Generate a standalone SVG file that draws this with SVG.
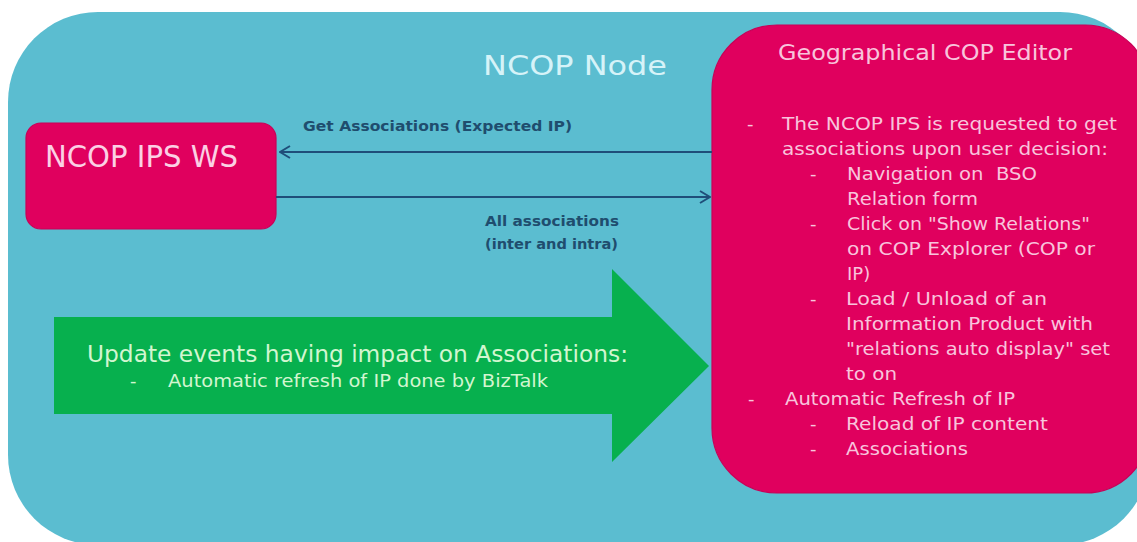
<svg xmlns="http://www.w3.org/2000/svg" width="1137" height="542" viewBox="0 0 1137 542">
  <defs>
    <marker id="chev" viewBox="0 0 12 14" refX="11" refY="7" markerWidth="12" markerHeight="14" markerUnits="userSpaceOnUse" orient="auto">
      <path d="M1,1 L11,7 L1,13" fill="none" stroke="#1f4e79" stroke-width="2"/>
    </marker>
    <style>
      text { font-family: "DejaVu Sans", "Liberation Sans", sans-serif; }
      .pink { fill: #e0005e; stroke: #c90057; stroke-width: 1.2; }
      .body { font-size: 18px; fill: #f8c4dc; }
      .lbl { font-size: 13.5px; font-weight: bold; fill: #1f4d6e; }
      .conn { stroke: #1f4e79; stroke-width: 2; fill: none; }
      .green { fill: #d2f6d0; }
    </style>
  </defs>
  <rect width="1137" height="542" fill="#ffffff"/>
  <g id="ncop-node">
    <rect x="8" y="12" width="1142" height="533" rx="90" ry="90" fill="#5bbdd0"/>
    <text x="483" y="75" textLength="184" lengthAdjust="spacingAndGlyphs" font-size="26" fill="#d6f3f8">NCOP Node</text>
  </g>
  <g id="ncop-ips-ws">
    <rect class="pink" x="26" y="123" width="250" height="106" rx="15" ry="15"/>
    <text x="45" y="167" textLength="193" lengthAdjust="spacingAndGlyphs" font-size="30" fill="#fbd0e4">NCOP IPS WS</text>
  </g>
  <g id="update-events">
    <path d="M54,317 L612,317 L612,269 L709,366 L612,462 L612,414 L54,414 Z" fill="#07b04e"/>
    <text class="green" x="87" y="362" font-size="23" textLength="541" lengthAdjust="spacingAndGlyphs">Update events having impact on Associations:</text>
    <text class="green" x="130" y="387" font-size="18">-</text>
    <text class="green" x="168" y="387" font-size="18" textLength="380" lengthAdjust="spacingAndGlyphs">Automatic refresh of IP done by BizTalk</text>
  </g>
  <g id="geo-cop-editor">
    <rect class="pink" x="712" y="25" width="438" height="468" rx="65" ry="65"/>
    <text x="778" y="60" textLength="294" lengthAdjust="spacingAndGlyphs" font-size="22" fill="#f8c4dc">Geographical COP Editor</text>
    <text class="body" x="747" y="130">-</text>
    <text class="body" x="782" y="130" textLength="335" lengthAdjust="spacingAndGlyphs">The NCOP IPS is requested to get</text>
    <text class="body" x="782" y="155" textLength="326" lengthAdjust="spacingAndGlyphs">associations upon user decision:</text>
    <text class="body" x="810" y="180">-</text>
    <text class="body" x="847" y="180" textLength="190" lengthAdjust="spacingAndGlyphs" xml:space="preserve">Navigation on  BSO</text>
    <text class="body" x="847" y="205" textLength="131" lengthAdjust="spacingAndGlyphs">Relation form</text>
    <text class="body" x="810" y="230">-</text>
    <text class="body" x="847" y="230" textLength="243" lengthAdjust="spacingAndGlyphs">Click on "Show Relations"</text>
    <text class="body" x="847" y="255" textLength="248" lengthAdjust="spacingAndGlyphs">on COP Explorer (COP or</text>
    <text class="body" x="847" y="280">IP)</text>
    <text class="body" x="810" y="305">-</text>
    <text class="body" x="846" y="305" textLength="201" lengthAdjust="spacingAndGlyphs">Load / Unload of an</text>
    <text class="body" x="846" y="330" textLength="247" lengthAdjust="spacingAndGlyphs">Information Product with</text>
    <text class="body" x="846" y="355" textLength="264" lengthAdjust="spacingAndGlyphs">"relations auto display" set</text>
    <text class="body" x="846" y="380" textLength="51" lengthAdjust="spacingAndGlyphs">to on</text>
    <text class="body" x="748" y="405">-</text>
    <text class="body" x="785" y="405" textLength="230" lengthAdjust="spacingAndGlyphs">Automatic Refresh of IP</text>
    <text class="body" x="810" y="430">-</text>
    <text class="body" x="846" y="430" textLength="202" lengthAdjust="spacingAndGlyphs">Reload of IP content</text>
    <text class="body" x="810" y="455">-</text>
    <text class="body" x="846" y="455" textLength="122" lengthAdjust="spacingAndGlyphs">Associations</text>
  </g>
  <g id="connectors">
    <line class="conn" x1="712" y1="152" x2="280" y2="152" marker-end="url(#chev)"/>
    <text class="lbl" x="303" y="131" textLength="269" lengthAdjust="spacingAndGlyphs">Get Associations (Expected IP)</text>
    <line class="conn" x1="276" y1="197" x2="710" y2="197" marker-end="url(#chev)"/>
    <text class="lbl" x="485" y="226" textLength="134" lengthAdjust="spacingAndGlyphs">All associations</text>
    <text class="lbl" x="485" y="249" textLength="133" lengthAdjust="spacingAndGlyphs">(inter and intra)</text>
  </g>
</svg>
